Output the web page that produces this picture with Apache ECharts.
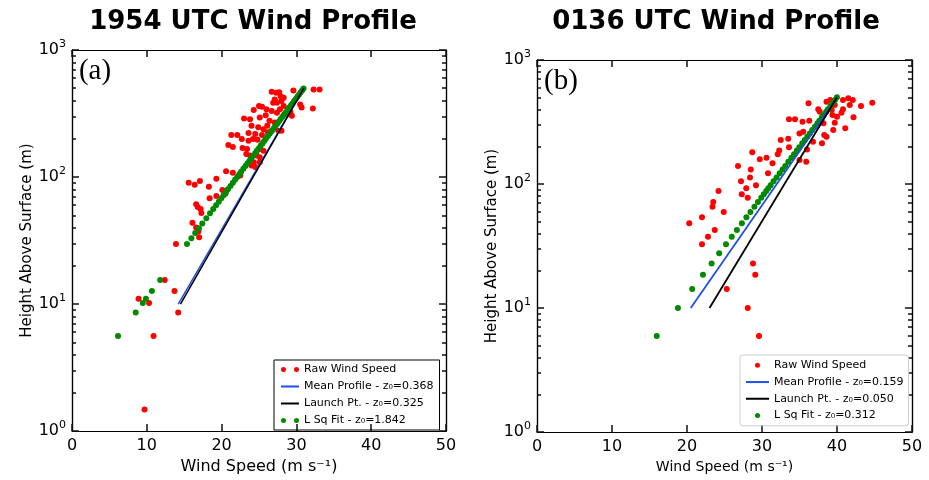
<!DOCTYPE html>
<html><head><meta charset="utf-8">
<script src="https://cdn.jsdelivr.net/npm/echarts@6/dist/echarts.min.js"></script>
<style>html,body{margin:0;padding:0;background:#fff}#c{width:929px;height:480px}</style>
</head><body><div id="c"></div>
<script>
// ---------- tick values ----------
const xTicks = [0, 10, 20, 30, 40, 50];
const yMajor = [1, 10, 100, 1000];
const yMinor = [2,3,4,5,6,7,8,9,20,30,40,50,60,70,80,90,200,300,400,500,600,700,800,900];

// ---------- panel (a) 1954 UTC ----------
const leftRaw = [
 [26.7,469],[27.3,460],[27.7,466],[27.9,433],[28.3,421],[27.1,408],[28.0,396],[29.6,480],[32.3,489],[33.1,489],
 [30.5,373],[30.7,352],[32.2,347],[26.9,385],[27.4,385],[25.0,362],[25.4,358],[24.3,337],[26.0,341],[26.7,331],
 [27.4,321],[27.8,341],[28.3,362],[29.2,325],[29.4,303],[28.9,312],[23.0,289],[23.8,285],[25.1,294],[25.9,306],
 [26.4,277],[27.1,269],[24.0,253],[24.9,246],[25.6,238],[26.1,253],[26.2,225],[26.7,231],[27.6,231],[28.0,231],
 [23.6,222],[24.5,218],[25.4,214],[21.3,214],[22.1,214],[22.7,199],[23.6,193],[24.2,199],[24.8,197],[20.9,179],
 [21.5,172],[22.8,169],[23.4,166],[25.1,166],[25.6,161],[23.3,152],[23.8,148],[24.7,148],[25.1,143],[24.3,131],
 [25.1,131],[24.0,123],[24.5,120],[20.6,111],[21.5,108],[22.5,103],[19.3,97],[15.6,90],[16.4,87],[17.1,93],
 [18.3,84],[20.1,79],[20.5,74],[19.3,71],[18.4,68],[16.6,61],[16.8,58],[17.2,56],[17.3,52],[16.1,43.6],
 [16.6,40],[16.9,37.3],[17.0,33.5],[13.9,29.7],[8.9,11.0],[10.3,10.2],[12.4,15.5],[13.7,12.7],[14.2,8.6],[10.9,5.6],
 [9.7,1.48]
];
const leftMean = [[14.2,10],[31.0,500]];
const leftLaunch = [[14.5,10],[31.0,500]];
const leftFit = [
 [6.15,5.6],[8.52,8.6],[9.46,10.2],[9.88,11],[10.68,12.7],[11.78,15.5],[15.37,29.7],[15.96,33],[16.47,36.2],[16.97,39.6],
 [17.42,43],[17.96,47.4],[18.45,51.8],[18.88,56],[19.26,60],[19.62,64],[19.96,68],[20.27,72],[20.57,76],[20.85,80],
 [21.19,85],[21.51,90],[21.80,95],[22.09,100],[22.36,105],[22.61,110],[22.91,116],[23.19,122],[23.45,128],[23.71,134],
 [23.95,140],[24.22,147],[24.48,154],[24.72,161],[24.96,168],[25.21,176],[25.46,184],[25.69,192],[25.92,200],[26.19,210],
 [26.45,220],[26.69,230],[26.93,240],[27.15,250],[27.41,262],[27.66,274],[27.90,286],[28.13,298],[28.35,310],[28.59,324],
 [28.82,338],[29.05,352],[29.26,366],[29.47,380],[29.70,396],[29.92,412],[30.13,428],[30.33,444],[30.55,462],[30.76,480],
 [30.96,497]
];

// ---------- panel (b) 0136 UTC ----------
const rightRaw = [
 [20.3,48.2],[22.8,37.6],[23.7,42.6],[22.0,32.6],[28.8,22.9],[29.1,18.5],[25.3,14.2],[28.1,10],[29.6,5.94],[22.0,53.9],
 [24.2,87.8],[23.4,65.6],[23.5,71.6],[24.9,59.5],[26.8,140],[27.2,105],[27.3,82.6],[27.9,92.3],[28.1,77.6],[28.4,113],
 [28.5,131],[28.7,180],[29.2,97.7],[29.7,158],[30.6,163],[30.8,122],[31.4,147],[32.1,174],[32.3,186],[32.5,226],
 [33.6,333],[34.4,333],[33.5,232],[33.6,198],[35.0,256],[35.5,264],[35.4,318],[36.2,448],[36.3,324],[35.0,156],
 [35.9,151],[36.8,219],[36.0,190],[37.5,400],[37.7,383],[38.2,309],[38.3,248],[38.0,213],[38.6,241],[39.5,272],
 [41.1,281],[42.2,345],[43.2,426],[44.7,453],[41.7,433],[40.8,400],[39.7,433],[39.3,395],[40.0,349],[40.6,376],
 [41.5,491],[42.1,476],[40.8,476],[38.6,461],[39.1,476],[39.4,360],[39.7,312]
];
const rightMean = [[20.5,10],[40.0,500]];
const rightLaunch = [[23.0,10],[40.0,500]];
const rightFit = [
 [15.97,5.94],[18.79,10],[20.69,14.2],[22.13,18.5],[23.28,22.9],[24.29,27.6],[25.20,32.6],[25.97,37.6],[26.65,42.6],[27.32,48.2],
 [27.92,53.9],[28.46,59.5],[28.99,65.6],[29.46,71.6],[29.90,77.6],[30.24,82.6],[30.57,87.8],[30.84,92.3],[31.15,97.7],[31.54,105],
 [31.94,113],[32.35,122],[32.74,131],[33.10,140],[33.51,151],[33.92,163],[34.27,174],[34.64,186],[34.97,198],[35.37,213],
 [35.69,226],[36.04,241],[36.37,256],[36.70,272],[37.05,290],[37.39,309],[37.64,324],[37.98,345],[38.21,360],[38.55,383],
 [38.79,400],[39.13,426],[39.46,453],[39.73,476],[39.99,500]
];

const leftNames = ['Raw Wind Speed', 'Mean Profile - z\u2080=0.368', 'Launch Pt. - z\u2080=0.325', 'L Sq Fit - z\u2080=1.842'];
const rightNames = ['Raw Wind Speed', 'Mean Profile - z\u2080=0.159', 'Launch Pt. - z\u2080=0.050', 'L Sq Fit - z\u2080=0.312'];

const FONT = 'DejaVu Sans';
const RED = '#ff0000', BLUE = '#1f4fe6', BLACK = '#000000', GREEN = '#008a00';

function makeX(grid, pos, showLabel, name, nameSize, nameGap) {
  return {
    type: 'value', gridIndex: grid, position: pos, min: 0, max: 50, interval: 10,
    axisLine: {show: true, onZero: false, lineStyle: {color: '#000', width: 1.2}},
    axisTick: {show: true, inside: true, length: 7, lineStyle: {color: '#111111', width: 1.5}},
    axisLabel: {show: showLabel, margin: 7, color: '#000', fontFamily: FONT, fontSize: 16},
    splitLine: {show: false},
    name: name || '', nameLocation: 'middle', nameGap: nameGap || 0,
    nameTextStyle: {fontFamily: FONT, fontSize: nameSize || 14, color: '#000'}
  };
}
// hidden log axis that places the data
function dataY(grid) {
  return {type: 'log', logBase: 10, gridIndex: grid, position: 'left', min: 1, max: 1000, show: false,
          splitLine: {show: false}};
}
// tick/label axes expressed in decades (exponent of 10) so ticks land where the log axis puts the values
function tickY(grid, pos, major, showLabel, name, nameGap) {
  const vals = (major ? yMajor : yMinor).map(function (v) { return Math.log10(v); });
  return {
    type: 'value', gridIndex: grid, position: pos, min: 0, max: 3,
    axisLine: {show: true, onZero: false, lineStyle: {color: '#000', width: 1.2}},
    axisTick: {show: true, inside: true, length: major ? 7 : 4, customValues: vals,
               lineStyle: {color: '#111111', width: 1.5}},
    axisLabel: {show: showLabel, customValues: vals, margin: 6, color: '#000',
      formatter: function (v) { return '{b|10}{s|' + Math.round(v) + '}'; },
      rich: {
        b: {fontFamily: FONT, fontSize: 16, color: '#000', lineHeight: 22, verticalAlign: 'middle'},
        s: {fontFamily: FONT, fontSize: 11, color: '#000', lineHeight: 12, verticalAlign: 'top'}
      }},
    splitLine: {show: false},
    name: name || '', nameLocation: 'middle', nameGap: nameGap || 0, nameRotate: 90,
    nameTextStyle: {fontFamily: FONT, fontSize: 15, color: '#000'}
  };
}

const twoDots = 'path://M0,2.5a2.5,2.5 0 1,0 5,0a2.5,2.5 0 1,0 -5,0ZM13,2.5a2.5,2.5 0 1,0 5,0a2.5,2.5 0 1,0 -5,0Z';

function seriesFor(grid, names, raw, mean, launch, fit, lw) {
  const xi = grid * 2, yi = grid * 5;
  return [
    {type: 'scatter', name: names[0], xAxisIndex: xi, yAxisIndex: yi, data: raw, symbolSize: 6,
     itemStyle: {color: RED, opacity: 1}, silent: true},
    {type: 'line', name: names[1], xAxisIndex: xi, yAxisIndex: yi, data: mean, symbol: 'none',
     lineStyle: {color: BLUE, width: lw}, itemStyle: {color: BLUE}, silent: true},
    {type: 'line', name: names[2], xAxisIndex: xi, yAxisIndex: yi, data: launch, symbol: 'none',
     lineStyle: {color: BLACK, width: lw}, itemStyle: {color: BLACK}, silent: true},
    {type: 'scatter', name: names[3], xAxisIndex: xi, yAxisIndex: yi, data: fit, symbolSize: 6,
     itemStyle: {color: GREEN, opacity: 1}, silent: true}
  ];
}

const chart = echarts.init(document.getElementById('c'), null, {renderer: 'canvas'});
chart.setOption({
  animation: false,
  backgroundColor: '#fff',
  grid: [
    {left: 72, right: 483, top: 50, bottom: 45},
    {left: 537, right: 17, top: 60, bottom: 48}
  ],
  xAxis: [
    makeX(0, 'bottom', true, 'Wind Speed (m s\u207B\u00B9)', 16, 25),
    makeX(0, 'top', false),
    makeX(1, 'bottom', true, 'Wind Speed (m s\u207B\u00B9)', 14, 26),
    makeX(1, 'top', false)
  ],
  yAxis: [
    dataY(0),
    tickY(0, 'left', true, true, 'Height Above Surface (m)', 36),
    tickY(0, 'left', false, false),
    tickY(0, 'right', true, false),
    tickY(0, 'right', false, false),
    dataY(1),
    tickY(1, 'left', true, true, 'Height Above Surface (m)', 36),
    tickY(1, 'left', false, false),
    tickY(1, 'right', true, false),
    tickY(1, 'right', false, false)
  ],
  legend: [
    {orient: 'vertical', left: 274, top: 360, padding: [1, 6, 1, 6], itemGap: 0, itemWidth: 18, itemHeight: 5,
     itemTextGap: 11, selectedMode: false, borderColor: '#000', borderWidth: 1, borderRadius: 0,
     textStyle: {fontFamily: FONT, fontSize: 11, color: '#000', lineHeight: 17},
     data: [
       {name: leftNames[0], icon: twoDots},
       {name: leftNames[1], itemStyle: {opacity: 0}},
       {name: leftNames[2], itemStyle: {opacity: 0}},
       {name: leftNames[3], icon: twoDots}
     ]},
    {orient: 'vertical', left: 740, top: 355, padding: [2, 5, 2, 5], itemGap: 0, itemWidth: 23, itemHeight: 5,
     itemTextGap: 7, selectedMode: false, borderColor: '#cccccc', borderWidth: 1, borderRadius: 3,
     textStyle: {fontFamily: FONT, fontSize: 11, color: '#000', lineHeight: 16.7},
     data: [
       {name: rightNames[0], icon: 'circle'},
       {name: rightNames[1], itemStyle: {opacity: 0}},
       {name: rightNames[2], itemStyle: {opacity: 0}},
       {name: rightNames[3], icon: 'circle'}
     ]}
  ],
  graphic: [
    {type: 'text', x: 253, y: 22, style: {text: '1954 UTC Wind Profile', fontFamily: FONT, fontWeight: 'bold', fontSize: 26, fill: '#000', align: 'center', verticalAlign: 'middle'}},
    {type: 'text', x: 716, y: 22, style: {text: '0136 UTC Wind Profile', fontFamily: FONT, fontWeight: 'bold', fontSize: 26, fill: '#000', align: 'center', verticalAlign: 'middle'}},
    {type: 'text', x: 95, y: 71, style: {text: '(a)', fontFamily: 'Liberation Serif', fontSize: 29, fill: '#000', align: 'center', verticalAlign: 'middle'}},
    {type: 'text', x: 561, y: 81, style: {text: '(b)', fontFamily: 'Liberation Serif', fontSize: 29, fill: '#000', align: 'center', verticalAlign: 'middle'}}
  ],
  series: [].concat(
    seriesFor(0, leftNames, leftRaw, leftMean, leftLaunch, leftFit, 1.5),
    seriesFor(1, rightNames, rightRaw, rightMean, rightLaunch, rightFit, 1.8)
  )
});
</script>
</body></html>
